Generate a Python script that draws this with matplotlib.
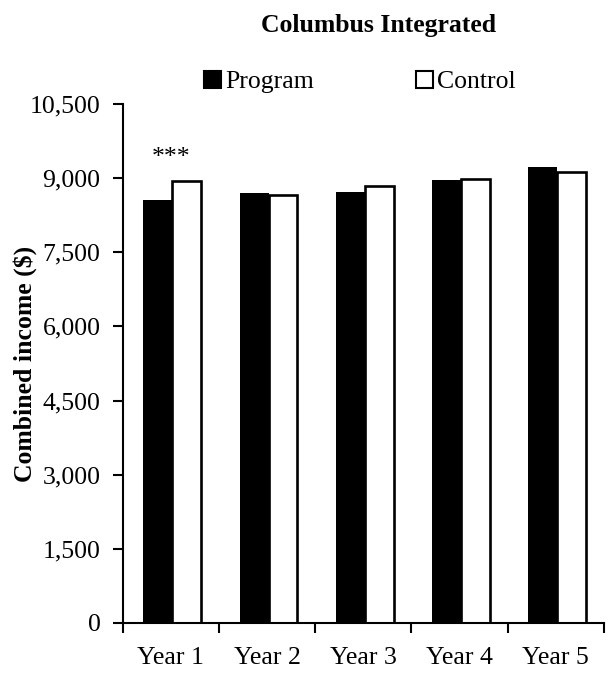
import numpy as np
import matplotlib
matplotlib.use("Agg")
import matplotlib.pyplot as plt
from matplotlib.patches import Patch
from matplotlib.ticker import FuncFormatter

years = ["Year 1", "Year 2", "Year 3", "Year 4", "Year 5"]
program = [8566, 8694, 8720, 8960, 9226]
control = [8946, 8660, 8834, 8980, 9126]
yticks = [0, 1500, 3000, 4500, 6000, 7500, 9000, 10500]
sig = ["***", "", "", "", ""]

plt.rcParams["font.family"] = ["Liberation Serif", "DejaVu Serif"]
FS = 18.5

fig = plt.figure(figsize=(6.08, 6.77), dpi=100)
ax = fig.add_axes([0.2018, 0.0798, 0.7916, 0.7666])

x = np.arange(len(years))
w = 0.3
ax.bar(x - w / 2 + 0.015, program, w, color="black", edgecolor="black", linewidth=0)
ax.bar(x + w / 2 + 0.015, control, w, color="white", edgecolor="black", linewidth=1.9)

for xi, s, p, c in zip(x, sig, program, control):
    if s:
        ax.text(xi, max(p, c) + 230, s, ha="center", va="bottom", fontsize=FS)

ax.set_xlim(-0.5, len(years) - 0.5)
ax.set_ylim(0, 10500)
ax.set_yticks(yticks)
ax.yaxis.set_major_formatter(FuncFormatter(lambda v, _: f"{int(v):,}"))

# category labels between ticks, tick marks on the boundaries
ax.set_xticks(np.arange(-0.5, len(years)), minor=False)
ax.set_xticklabels([])
ax.set_xticks(x, minor=True)
ax.set_xticklabels(years, minor=True)
ax.tick_params(axis="x", which="major", direction="out", length=7, width=1.5)
ax.tick_params(axis="x", which="minor", length=0, pad=17, labelsize=FS)
ax.tick_params(axis="y", direction="out", length=7, width=1.5, pad=9, labelsize=FS)

for side in ("top", "right"):
    ax.spines[side].set_visible(False)
for side in ("left", "bottom"):
    ax.spines[side].set_linewidth(1.5)

ax.set_ylabel("Combined income ($)", fontsize=FS, fontweight="bold")
ax.yaxis.set_label_coords(-0.178, 0.5)

fig.text(0.623, 0.963, "Columbus Integrated", ha="center", va="center",
         fontsize=FS, fontweight="bold")

handles = [Patch(facecolor="black", edgecolor="black", linewidth=1.5),
           Patch(facecolor="white", edgecolor="black", linewidth=1.5)]
fig.legend(handles, ["Program", "Control"], loc="center", bbox_to_anchor=(0.592, 0.879),
           ncol=2, frameon=False, fontsize=FS, handlelength=0.65, handleheight=0.65,
           handletextpad=0.15, columnspacing=4.0, borderpad=0)

fig.savefig("out.png", dpi=100)
